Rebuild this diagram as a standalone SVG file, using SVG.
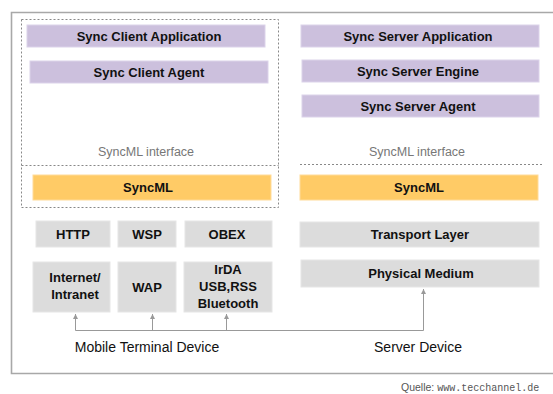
<svg xmlns="http://www.w3.org/2000/svg" width="553" height="394" viewBox="0 0 553 394">
<style>
.p{fill:#ccc0dd;stroke:#dcd3ea;stroke-width:1}
.o{fill:#ffcb66;stroke:#ffdb99;stroke-width:1}
.g{fill:#dcdcdc;stroke:#e6e6e6;stroke-width:1}
.t{font-family:"Liberation Sans",Arial,sans-serif;font-size:13px;font-weight:bold;fill:#111;text-anchor:middle}
.i{font-family:"Liberation Sans",Arial,sans-serif;font-size:12.5px;fill:#777;text-anchor:middle}
.l{font-family:"Liberation Sans",Arial,sans-serif;font-size:14px;fill:#111;text-anchor:middle}
.d{fill:none;stroke:#888;stroke-width:1;stroke-dasharray:2 2}
.c{fill:none;stroke:#999;stroke-width:1}
</style>
<defs>
<marker id="ah" markerWidth="6" markerHeight="6" refX="5" refY="3" orient="auto" markerUnits="userSpaceOnUse">
<path d="M0,0.5 L5,3 L0,5.5 Z" fill="#999"/>
</marker>
</defs>
<rect width="553" height="394" fill="#fff"/>
<path d="M560,12.5 H11.5 V373.5 H560" fill="none" stroke="#a8a8a8" stroke-width="1.6"/>
<g id="client-frame">
<rect x="21.5" y="19.5" width="257" height="188" class="d"/>
<line x1="21.5" y1="165.5" x2="278.5" y2="165.5" class="d"/>
<text x="146" y="156" class="i">SyncML interface</text>
</g>
<g id="server-frame">
<line x1="300" y1="164.5" x2="544" y2="164.5" class="d"/>
<text x="417" y="156" class="i">SyncML interface</text>
</g>
<g id="sync-client-application"><rect x="27" y="25" width="238" height="22" class="p"/><text x="149" y="40.5" class="t">Sync Client Application</text></g>
<g id="sync-client-agent"><rect x="30" y="61" width="238" height="22" class="p"/><text x="149" y="76.5" class="t">Sync Client Agent</text></g>
<g id="syncml-client"><rect x="33" y="175" width="238" height="25" class="o"/><text x="148" y="192" class="t">SyncML</text></g>
<g id="http"><rect x="36" y="221" width="74" height="26" class="g"/><text x="73" y="238.5" class="t">HTTP</text></g>
<g id="wsp"><rect x="118" y="221" width="58" height="26" class="g"/><text x="147" y="238.5" class="t">WSP</text></g>
<g id="obex"><rect x="185" y="221" width="87" height="26" class="g"/><text x="227" y="238.5" class="t">OBEX</text></g>
<g id="internet"><rect x="33" y="262" width="77" height="50" class="g"/><text x="75" y="281.5" class="t">Internet/</text><text x="75" y="298.5" class="t">Intranet</text></g>
<g id="wap"><rect x="118" y="262" width="58" height="50" class="g"/><text x="147" y="291.5" class="t">WAP</text></g>
<g id="irda"><rect x="184" y="262" width="88" height="50" class="g"/><text x="228" y="273.5" class="t">IrDA</text><text x="228" y="290.5" class="t">USB,RSS</text><text x="228" y="307.5" class="t">Bluetooth</text></g>
<g id="sync-server-application"><rect x="301" y="25" width="238" height="22" class="p"/><text x="418" y="40.5" class="t">Sync Server Application</text></g>
<g id="sync-server-engine"><rect x="302" y="60" width="237" height="22" class="p"/><text x="418" y="75.5" class="t">Sync Server Engine</text></g>
<g id="sync-server-agent"><rect x="302" y="95" width="237" height="22" class="p"/><text x="418" y="110.5" class="t">Sync Server Agent</text></g>
<g id="syncml-server"><rect x="300" y="175" width="238" height="25" class="o"/><text x="419" y="192" class="t">SyncML</text></g>
<g id="transport-layer"><rect x="300" y="222" width="239" height="25" class="g"/><text x="420" y="239" class="t">Transport Layer</text></g>
<g id="physical-medium"><rect x="301" y="260" width="238" height="27" class="g"/><text x="421" y="278" class="t">Physical Medium</text></g>
<g id="connectors">
<path d="M75.5,330.5 H423.5" class="c"/>
<path d="M75.5,330.5 V314" class="c" marker-end="url(#ah)"/>
<path d="M152.5,330.5 V314" class="c" marker-end="url(#ah)"/>
<path d="M226.5,330.5 V314" class="c" marker-end="url(#ah)"/>
<path d="M423.5,330.5 V289" class="c" marker-end="url(#ah)"/>
</g>
<text x="147" y="352" class="l">Mobile Terminal Device</text>
<text x="418" y="352" class="l">Server Device</text>
<text x="401" y="391" font-family="'Liberation Sans',Arial,sans-serif" font-size="10.5" fill="#555">Quelle: <tspan font-family="'Liberation Mono','Courier New',monospace" font-size="10">www.tecchannel.de</tspan></text>
</svg>
